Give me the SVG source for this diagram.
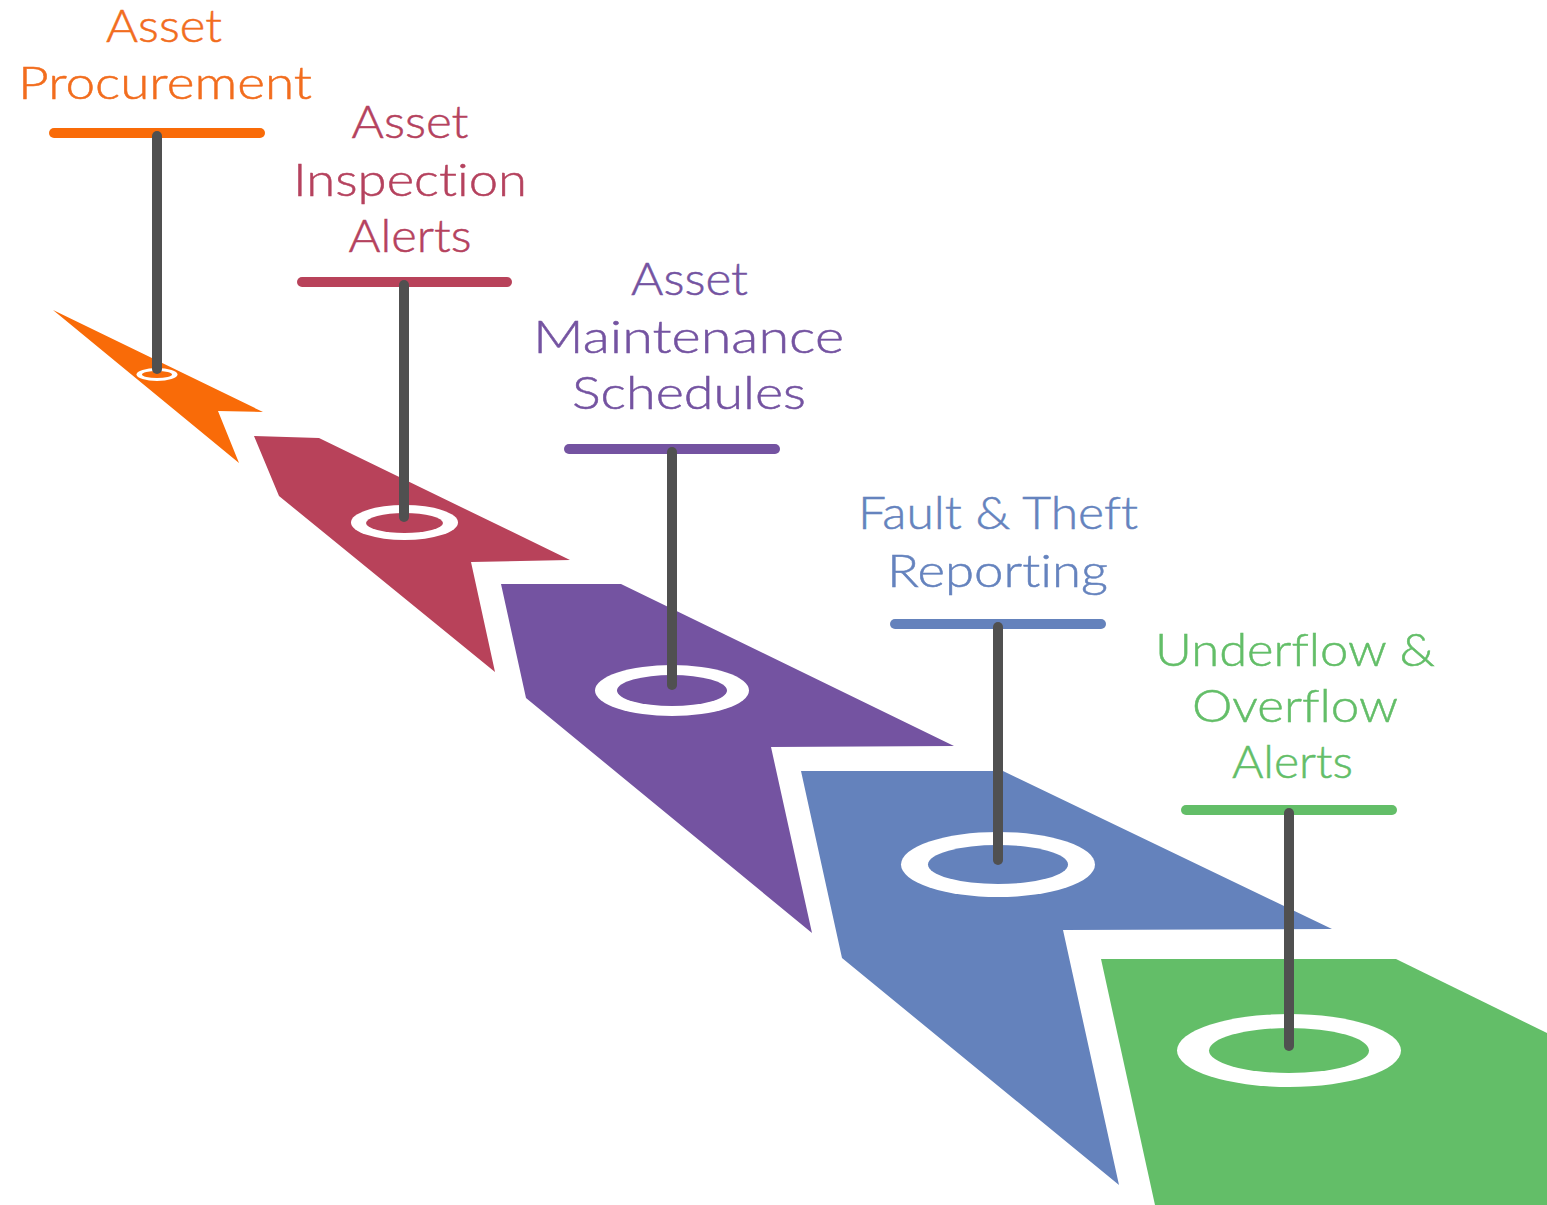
<svg xmlns="http://www.w3.org/2000/svg" width="1547" height="1205" viewBox="0 0 1547 1205">
<style>
.lbl{font-family:"Lato","Open Sans","Liberation Sans",sans-serif;font-weight:300;font-size:46px;text-anchor:middle;font-variant-ligatures:none;stroke-width:0.5}
.bar{stroke-width:10;stroke-linecap:round;fill:none}
.pole{stroke:#505050;stroke-width:10;stroke-linecap:round;fill:none}
.ring{fill:#ffffff}
</style>
<rect width="1547" height="1205" fill="#ffffff"/>
<g id="node-procurement">
<polygon points="53,310 263,412 218,411 239,463" fill="#F96B08"/>
<ellipse class="ring" cx="157" cy="374.5" rx="20.5" ry="6.5"/>
<ellipse cx="157" cy="374.5" rx="15" ry="3.5" fill="#F96B08"/>
<line class="bar" x1="54" y1="133" x2="260" y2="133" stroke="#F96B08"/>
<g class="lbl" fill="#F26D1E" stroke="#F26D1E">
<text x="164" y="42" textLength="116" lengthAdjust="spacingAndGlyphs">Asset</text>
<text x="165" y="99" textLength="294" lengthAdjust="spacingAndGlyphs">Procurement</text>
</g>
</g>
<g id="node-inspection">
<polygon points="254,436 319,438 570,560 471,562 495,672 279,496" fill="#B8425A"/>
<ellipse class="ring" cx="404.5" cy="522.5" rx="53.5" ry="17.5"/>
<ellipse cx="404.5" cy="523" rx="38.5" ry="10" fill="#B8425A"/>
<line class="bar" x1="302" y1="282" x2="507" y2="282" stroke="#B8425A"/>
<g class="lbl" fill="#B5425E" stroke="#B5425E">
<text x="410" y="138" textLength="117" lengthAdjust="spacingAndGlyphs">Asset</text>
<text x="410" y="196" textLength="234" lengthAdjust="spacingAndGlyphs">Inspection</text>
<text x="410" y="252" textLength="123" lengthAdjust="spacingAndGlyphs">Alerts</text>
</g>
</g>
<g id="node-maintenance">
<polygon points="501,584 621,584 954,746 771,747 812,933 526,698" fill="#7453A1"/>
<ellipse class="ring" cx="672" cy="690.5" rx="77" ry="25.5"/>
<ellipse cx="672" cy="690.5" rx="55" ry="15.5" fill="#7453A1"/>
<line class="bar" x1="569" y1="449" x2="775" y2="449" stroke="#7453A1"/>
<g class="lbl" fill="#7453A1" stroke="#7453A1">
<text x="689.5" y="295" textLength="117" lengthAdjust="spacingAndGlyphs">Asset</text>
<text x="688.5" y="353" textLength="311" lengthAdjust="spacingAndGlyphs">Maintenance</text>
<text x="689" y="409" textLength="234" lengthAdjust="spacingAndGlyphs">Schedules</text>
</g>
</g>
<g id="node-fault">
<polygon points="801,771 1003,771 1332,929 1063,930 1119,1185 842,958" fill="#6482BC"/>
<ellipse class="ring" cx="998" cy="864.5" rx="97" ry="32.5"/>
<ellipse cx="998" cy="864.5" rx="70" ry="19.5" fill="#6482BC"/>
<line class="bar" x1="895" y1="624" x2="1101" y2="624" stroke="#6482BC"/>
<g class="lbl" fill="#6583BE" stroke="#6583BE">
<text x="998" y="529" textLength="280" lengthAdjust="spacingAndGlyphs">Fault &amp; Theft</text>
<text x="997.5" y="587" textLength="221" lengthAdjust="spacingAndGlyphs">Reporting</text>
</g>
</g>
<g id="node-underflow">
<polygon points="1101,959 1396,959 1547,1033 1547,1205 1155,1205" fill="#63BE68"/>
<ellipse class="ring" cx="1289" cy="1050.5" rx="112" ry="36.5"/>
<ellipse cx="1289" cy="1050.5" rx="80" ry="22.5" fill="#63BE68"/>
<line class="bar" x1="1186" y1="810" x2="1392" y2="810" stroke="#63BE68"/>
<g class="lbl" fill="#63BE68" stroke="#63BE68">
<text x="1295" y="666" textLength="280" lengthAdjust="spacingAndGlyphs">Underflow &amp;</text>
<text x="1295" y="722" textLength="206" lengthAdjust="spacingAndGlyphs">Overflow</text>
<text x="1292.5" y="778" textLength="121" lengthAdjust="spacingAndGlyphs">Alerts</text>
</g>
</g>
<g id="connectors">
<line class="pole" x1="157" y1="136" x2="157" y2="369"/>
<line class="pole" x1="404" y1="285" x2="404" y2="517"/>
<line class="pole" x1="672" y1="452" x2="672" y2="685"/>
<line class="pole" x1="998" y1="627" x2="998" y2="860"/>
<line class="pole" x1="1289" y1="813" x2="1289" y2="1046"/>
</g>
</svg>
